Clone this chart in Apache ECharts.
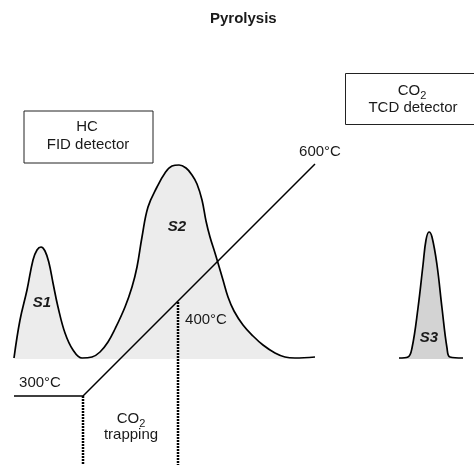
<!DOCTYPE html>
<html>
<head>
<meta charset="utf-8">
<script src="https://cdn.jsdelivr.net/npm/echarts@6/dist/echarts.min.js"></script>
<style>html,body{margin:0;padding:0;background:#fff}#c{width:474px;height:465px}</style>
</head>
<body>
<div id="c"></div>
<script>
// HC signal (FID) – S1 and S2 peaks: [time, signal]
var hcTime   = [14, 20, 27, 33, 37, 41, 45, 49, 53, 58, 65, 73, 82, 92, 100, 108, 115, 125, 132, 137, 142, 148, 157, 165, 172, 179, 186, 192, 197, 202, 206, 210, 215, 218, 223, 228, 234, 243, 253, 263, 275, 285, 295, 315];
var hcSignal = [1, 39, 69, 99, 109, 112, 108, 96, 76, 52, 26, 9, 1, 2, 7, 17, 30, 52, 72, 92, 122, 152, 172, 186, 193, 194, 191, 184, 175, 159, 138, 122, 106, 96, 79, 62, 48, 34, 23, 14, 6, 2, 1, 2];
// CO2 signal (TCD) – S3 peak
var co2Time   = [399, 408, 412, 418, 423, 426, 429, 432, 437, 442, 447, 450, 463];
var co2Signal = [1, 2, 11, 51, 94, 119, 127, 122, 94, 51, 11, 2, 1];
// Oven temperature programme
var tempTime  = [14, 83, 315];
var tempLevel = [-37, -37, 195];
// Dotted markers (start of ramp, 400°C)
var markerTimes  = [83, 178];
var markerLevels = [-37, 57];
var yBottom = -106;

var FONT = 'Liberation Sans, Arial, Helvetica, sans-serif';
function zip(a, b) { return a.map(function (v, i) { return [v, b[i]]; }); }

var chart = echarts.init(document.getElementById('c'), null, {renderer: 'canvas'});
var series = [
  {type: 'line', data: zip(hcTime, hcSignal), smooth: 0.4, symbol: 'none', z: 2,
   lineStyle: {color: '#000', width: 1.7}, areaStyle: {color: '#ececec', opacity: 1}},
  {type: 'line', data: zip(co2Time, co2Signal), smooth: 0.4, symbol: 'none', z: 2,
   lineStyle: {color: '#000', width: 1.7}, areaStyle: {color: '#d3d3d3', opacity: 1}},
  {type: 'line', data: zip(tempTime, tempLevel), symbol: 'none', z: 3,
   lineStyle: {color: '#000', width: 1.5}}
];
markerTimes.forEach(function (t, i) {
  series.push({type: 'line', data: [[t, markerLevels[i]], [t, yBottom]], symbol: 'none', z: 3,
    lineStyle: {color: '#000', width: 2.5, type: [2, 1]}});
});

function lbl(x, y, text, extra) {
  var st = {text: text, fill: '#1a1a1a', font: '15px ' + FONT, textAlign: 'center', textVerticalAlign: 'middle'};
  for (var k in extra) st[k] = extra[k];
  return {type: 'text', x: x, y: y, z: 10, style: st};
}
var subRich = {n: {fontSize: 15, fontFamily: FONT, fill: '#1a1a1a', lineHeight: 18},
               s: {fontSize: 11, fontFamily: FONT, fill: '#1a1a1a', verticalAlign: 'bottom', padding: [9, 0, 0, 0]}};

chart.setOption({
  animation: false,
  title: {text: 'Pyrolysis', left: 205, top: 6,
          textStyle: {fontFamily: FONT, fontSize: 15, fontWeight: 'bold', color: '#1a1a1a'}},
  grid: {left: 0, right: 0, top: 0, bottom: 0},
  xAxis: {type: 'value', min: 0, max: 474, show: false},
  yAxis: {type: 'value', min: yBottom, max: 359, show: false},
  series: series,
  graphic: [
    {type: 'rect', shape: {x: 24, y: 111, width: 129, height: 52}, z: 5,
     style: {fill: '#fff', stroke: '#222', lineWidth: 1}},
    {type: 'rect', shape: {x: 345.5, y: 73.5, width: 140, height: 51}, z: 5,
     style: {fill: '#fff', stroke: '#222', lineWidth: 1}},
    lbl(87, 127, 'HC'),
    lbl(88, 145, 'FID detector'),
    lbl(412, 91, '{n|CO}{s|2}', {rich: subRich}),
    lbl(413, 108, 'TCD detector'),
    lbl(320, 152, '600°C'),
    lbl(206, 320, '400°C'),
    lbl(40, 383, '300°C'),
    lbl(131, 419, '{n|CO}{s|2}', {rich: subRich}),
    lbl(131, 435, 'trapping'),
    lbl(42, 303, 'S1', {font: 'italic bold 15px ' + FONT}),
    lbl(177, 227, 'S2', {font: 'italic bold 15px ' + FONT}),
    lbl(429, 338, 'S3', {font: 'italic bold 15px ' + FONT})
  ]
});
</script>
</body>
</html>
